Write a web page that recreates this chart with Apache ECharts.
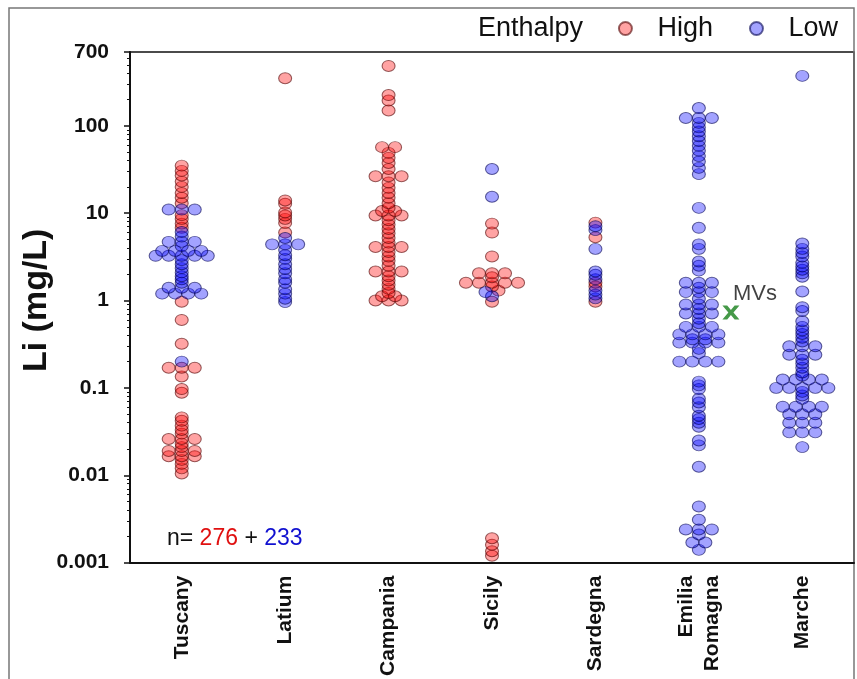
<!DOCTYPE html>
<html>
<head>
<meta charset="utf-8">
<script src="https://cdn.jsdelivr.net/npm/echarts@6/dist/echarts.min.js"></script>
<style>
html, body { margin: 0; padding: 0; background: #fff; }
#main { width: 857px; height: 679px; }
</style>
</head>
<body>
<div id="main"></div>
<script>
var regions = ['Tuscany', 'Latium', 'Campania', 'Sicily', 'Sardegna', 'Emilia\nRomagna', 'Marche'];
var yTicks = [0.001, 0.01, 0.1, 1, 10, 100, 700];

// Li (mg/L), high enthalpy samples
var highTuscany = [35, 30.5, 27, 23, 20, 17, 15, 13, 9.5, 8.6, 7.6, 6.8, 0.97, 0.6, 0.32, 0.17, 0.17, 0.17, 0.135, 0.097, 0.088,
	0.046, 0.042, 0.037, 0.033, 0.03, 0.026, 0.026, 0.026, 0.023, 0.021, 0.019, 0.019, 0.019, 0.0165, 0.0165, 0.0165, 0.015, 0.0135, 0.012, 0.0105];
var highLatium = [350, 14, 12.8, 10.2, 9.4, 8.6, 7.7, 6];
var highCampania = [485, 225, 195, 150, 57, 57, 49, 43, 37.5, 32, 26.5, 26.5, 26.5, 22.5, 19.5, 17, 15, 13, 11.5, 10.6, 10.6, 9.4, 9.4, 9.4,
	8.3, 7.4, 6.6, 5.9, 5.2, 4.6, 4.1, 4.1, 4.1, 3.6, 3.2, 2.85, 2.5, 2.15, 2.15, 2.15, 1.9, 1.7, 1.52, 1.36, 1.22, 1.12, 1.12, 1.0, 1.0, 1.0];
var highSicily = [7.6, 6.0, 3.2, 2.05, 2.05, 2.05, 1.85, 1.6, 1.6, 1.6, 1.6, 1.6, 1.45, 1.3, 0.97, 0.0019, 0.0016, 0.00135, 0.0012];
var highSardegna = [7.8, 5.3, 1.6, 1.45, 0.97];
var highEmilia = [];
var highMarche = [];

// Li (mg/L), low enthalpy samples
var lowTuscany = [11, 11, 11, 6.1, 5.4, 4.7, 4.7, 4.7, 4.2, 3.7, 3.7, 3.7, 3.7, 3.25, 3.25, 3.25, 3.25, 3.25, 2.9, 2.6, 2.35, 2.1, 1.9, 1.75, 1.6,
	1.4, 1.4, 1.4, 1.2, 1.2, 1.2, 1.2, 0.2];
var lowLatium = [5.2, 4.4, 4.4, 4.4, 3.8, 3.3, 3.0, 2.6, 2.3, 2.05, 1.75, 1.6, 1.35, 1.2, 1.05, 0.96];
var lowCampania = [];
var lowSicily = [32, 15.4, 1.25, 1.12];
var lowSardegna = [7.1, 6.4, 3.9, 2.15, 1.97, 1.75, 1.3, 1.17, 1.06];
var lowEmilia = [160, 123, 123, 123, 108, 96, 86, 76, 67, 59, 52, 45, 39, 33, 28, 11.5, 6.8, 4.4, 3.9, 2.8, 2.5, 2.2, 1.6, 1.6, 1.6, 1.4,
	1.25, 1.25, 1.25, 1.05, 0.9, 0.9, 0.9, 0.8, 0.71, 0.71, 0.71, 0.62, 0.55, 0.5, 0.5, 0.5, 0.41, 0.41, 0.41, 0.41, 0.36, 0.36,
	0.33, 0.33, 0.33, 0.33, 0.28, 0.25, 0.2, 0.2, 0.2, 0.2, 0.118, 0.107, 0.097, 0.075, 0.068, 0.06, 0.048, 0.044, 0.04, 0.036,
	0.025, 0.022, 0.0125, 0.0044, 0.0031, 0.0024, 0.0024, 0.0024, 0.0021, 0.0017, 0.0017, 0.0014];
var lowMarche = [373, 4.5, 3.9, 3.5, 3.2, 2.7, 2.45, 2.25, 2.05, 1.87, 1.27, 0.84, 0.76, 0.58, 0.5, 0.455, 0.415, 0.375, 0.34, 0.3, 0.3, 0.3,
	0.24, 0.24, 0.24, 0.21, 0.19, 0.17, 0.15, 0.138, 0.125, 0.125, 0.125, 0.125, 0.1, 0.1, 0.1, 0.1, 0.1, 0.09, 0.082, 0.075,
	0.061, 0.061, 0.061, 0.061, 0.05, 0.05, 0.05, 0.04, 0.04, 0.04, 0.031, 0.031, 0.031, 0.021];

// median value marker for Emilia Romagna
var mvsValue = [0.73];

var highAll = [highTuscany, highLatium, highCampania, highSicily, highSardegna, highEmilia, highMarche];
var lowAll = [lowTuscany, lowLatium, lowCampania, lowSicily, lowSardegna, lowEmilia, lowMarche];

// beeswarm: points closer than rowGap px share a row, spread around the category centre
var pxPerDecade = 511 / Math.log10(700 / 0.001);
var rowGap = 3;
var colStep = 0.126;

var highData = [], lowData = [];
for (var c = 0; c < regions.length; c++) {
	var pts = [];
	highAll[c].forEach(function(v) { pts.push({ v: v, g: 0 }); });
	lowAll[c].forEach(function(v) { pts.push({ v: v, g: 1 }); });
	pts.sort(function(a, b) { return a.v - b.v; });
	var i = 0;
	while (i < pts.length) {
		var y0 = Math.log10(pts[i].v) * pxPerDecade;
		var j = i;
		while (j < pts.length && Math.log10(pts[j].v) * pxPerDecade - y0 < rowGap) j++;
		var n = j - i;
		for (var k = i; k < j; k++) {
			var p = [c + (k - i - (n - 1) / 2) * colStep, pts[k].v];
			(pts[k].g === 0 ? highData : lowData).push(p);
		}
		i = j;
	}
}

var minorTicks = [];
for (var d = -3; d <= 2; d++) {
	for (var m = 2; m <= 9; m++) {
		var t = m * Math.pow(10, d);
		if (t < 700) minorTicks.push(t);
	}
}

var font = 'Liberation Sans, Arial, sans-serif';
var chart = echarts.init(document.getElementById('main'));
var option = {
	backgroundColor: '#fff',
	animation: false,
	grid: { left: 130, right: 3, top: 52, bottom: 116, show: true, borderColor: '#111', borderWidth: 1.5 },
	legend: {
		data: ['High', 'Low'],
		right: 14,
		top: 10,
		icon: 'circle',
		itemWidth: 54,
		itemHeight: 13,
		itemGap: 36,
		textStyle: { fontSize: 27, color: '#111', fontFamily: font }
	},
	xAxis: [{
		type: 'category',
		data: regions,
		axisLine: { lineStyle: { color: '#111', width: 2 } },
		axisTick: { alignWithLabel: true, length: 6, lineStyle: { color: '#111', width: 2 } },
		axisLabel: { rotate: 90, margin: 13, fontSize: 21, fontWeight: 'bold', color: '#111', fontFamily: font, align: 'right', verticalAlign: 'middle', lineHeight: 26 }
	}, {
		type: 'value',
		min: -0.5,
		max: 6.5,
		show: false,
		position: 'top'
	}],
	yAxis: [{
		type: 'log',
		logBase: 10,
		min: 0.001,
		max: 700,
		name: 'Li (mg/L)',
		nameLocation: 'middle',
		nameGap: 76,
		nameMoveOverlap: false,
		nameTextStyle: { fontSize: 34, fontWeight: 'bold', color: '#111', fontFamily: font, padding: [0, 0, 0, 14] },
		splitLine: { show: false },
		axisLine: { show: true, onZero: false, lineStyle: { color: '#111', width: 2 } },
		axisTick: { customValues: yTicks, length: 6, lineStyle: { color: '#111', width: 1.5 } },
		axisLabel: {
			customValues: yTicks,
			margin: 21,
			fontSize: 21,
			fontWeight: 'bold',
			color: '#111',
			fontFamily: font,
			formatter: function(v) { return String(+v.toPrecision(3)); }
		}
	}, {
		type: 'log',
		logBase: 10,
		min: 0.001,
		max: 700,
		position: 'left',
		axisLine: { show: false, onZero: false },
		splitLine: { show: false },
		axisLabel: { show: false },
		axisTick: { customValues: minorTicks, length: 3, lineStyle: { color: '#111', width: 1 } }
	}],
	graphic: [{
		type: 'rect',
		shape: { x: 9, y: 8, width: 845, height: 700 },
		style: { fill: 'none', stroke: '#777', lineWidth: 1.5 },
		silent: true
	}, {
		type: 'text',
		left: 478,
		top: 15,
		style: { text: 'Enthalpy', fontSize: 27, fill: '#111', fontFamily: font }
	}, {
		type: 'text',
		left: 167,
		top: 527,
		style: {
			text: '{k|n= }{r|276}{k| + }{b|233}',
			fontFamily: font,
			rich: {
				k: { fontSize: 23, fill: '#111', fontFamily: font },
				r: { fontSize: 23, fill: '#e01010', fontFamily: font },
				b: { fontSize: 23, fill: '#1010d0', fontFamily: font }
			}
		}
	}],
	series: [{
		name: 'High',
		type: 'scatter',
		xAxisIndex: 1,
		symbolSize: [13, 11],
		itemStyle: { color: 'rgba(255,0,0,0.45)', borderColor: 'rgba(80,0,0,0.75)', borderWidth: 1 },
		data: highData
	}, {
		name: 'Low',
		type: 'scatter',
		xAxisIndex: 1,
		symbolSize: [13, 11],
		itemStyle: { color: 'rgba(0,0,255,0.45)', borderColor: 'rgba(0,0,80,0.75)', borderWidth: 1 },
		data: lowData
	}, {
		name: 'MVs',
		type: 'scatter',
		xAxisIndex: 1,
		symbol: 'path://M0,0 L4.5,0 L8,4.6 L11.5,0 L16,0 L10.4,7 L16,14 L11.5,14 L8,9.4 L4.5,14 L0,14 L5.6,7 Z',
		symbolSize: [17, 14],
		itemStyle: { color: '#17801a' },
		label: { show: true, formatter: 'MVs', position: 'top', distance: 1, offset: [24, 0], fontSize: 22, color: '#111', fontFamily: font },
		data: mvsValue.map(function(v) { return [5.31, v]; })
	}]
};
chart.setOption(option);
</script>
</body>
</html>
